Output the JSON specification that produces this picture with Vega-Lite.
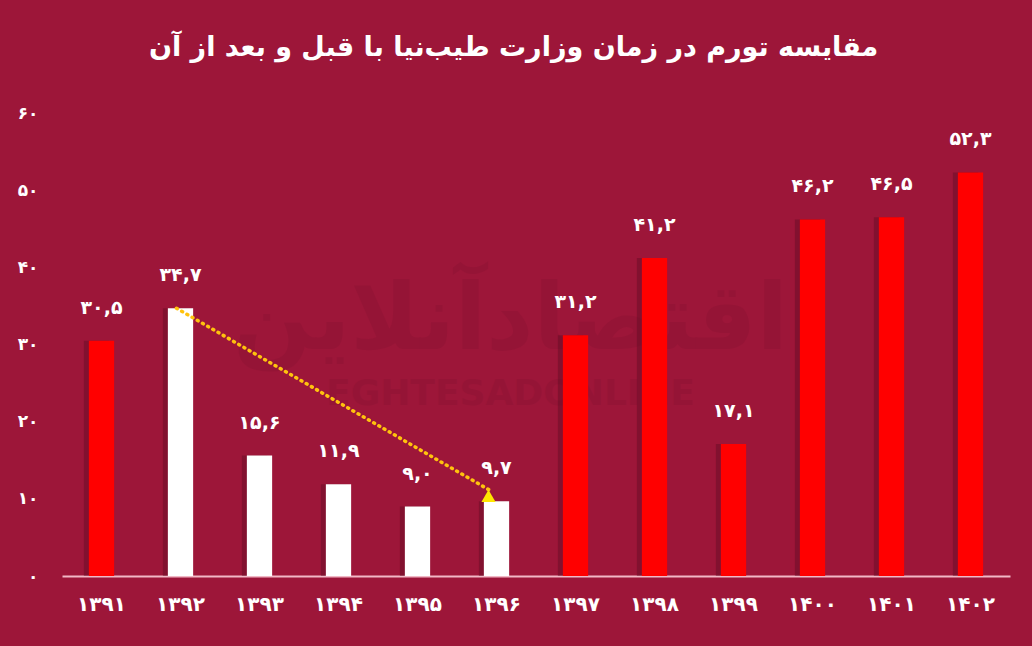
{
  "$schema": "https://vega.github.io/schema/vega-lite/v6.json",
  "description": "Inflation comparison during Tayebnia's ministry vs before and after.",
  "width": 948,
  "height": 463,
  "autosize": {"type": "none"},
  "padding": {"left": 62, "top": 113, "right": 22, "bottom": 70},
  "background": "#9D1639",
  "title": {
    "text": "مقایسه تورم در زمان وزارت طیب‌نیا با قبل و بعد از آن",
    "font": "DejaVu Sans",
    "fontSize": 27,
    "fontWeight": "bold",
    "color": "white",
    "anchor": "middle",
    "frame": "bounds",
    "offset": 42
  },
  "config": {
    "view": {"stroke": null},
    "axis": {"labelFont": "DejaVu Sans", "labelColor": "white", "labelFontWeight": "bold"},
    "text": {"font": "DejaVu Sans"}
  },
  "datasets": {
    "inflation": [
      {"year": "۱۳۹۱", "value": 30.5, "label": "۳۰,۵", "period": "other"},
      {"year": "۱۳۹۲", "value": 34.7, "label": "۳۴,۷", "period": "tayebnia"},
      {"year": "۱۳۹۳", "value": 15.6, "label": "۱۵,۶", "period": "tayebnia"},
      {"year": "۱۳۹۴", "value": 11.9, "label": "۱۱,۹", "period": "tayebnia"},
      {"year": "۱۳۹۵", "value": 9.0, "label": "۹,۰", "period": "tayebnia"},
      {"year": "۱۳۹۶", "value": 9.7, "label": "۹,۷", "period": "tayebnia"},
      {"year": "۱۳۹۷", "value": 31.2, "label": "۳۱,۲", "period": "other"},
      {"year": "۱۳۹۸", "value": 41.2, "label": "۴۱,۲", "period": "other"},
      {"year": "۱۳۹۹", "value": 17.1, "label": "۱۷,۱", "period": "other"},
      {"year": "۱۴۰۰", "value": 46.2, "label": "۴۶,۲", "period": "other"},
      {"year": "۱۴۰۱", "value": 46.5, "label": "۴۶,۵", "period": "other"},
      {"year": "۱۴۰۲", "value": 52.3, "label": "۵۲,۳", "period": "other"}
    ],
    "trend": [
      {"year": "۱۳۹۲", "value": 34.7},
      {"year": "۱۳۹۶", "value": 10.9}
    ],
    "watermark": [
      {"year": "۱۳۹۶", "value": 33, "text": "اقتصادآنلاین", "kind": "fa"},
      {"year": "۱۳۹۶", "value": 23.6, "text": "EGHTESADONLINE", "kind": "en"}
    ]
  },
  "encoding": {
    "x": {
      "field": "year",
      "type": "nominal",
      "title": null,
      "scale": {
        "domain": ["۱۳۹۱", "۱۳۹۲", "۱۳۹۳", "۱۳۹۴", "۱۳۹۵", "۱۳۹۶", "۱۳۹۷", "۱۳۹۸", "۱۳۹۹", "۱۴۰۰", "۱۴۰۱", "۱۴۰۲"],
        "paddingInner": 0.68,
        "paddingOuter": 0.34
      },
      "axis": {
        "labelAngle": 0,
        "ticks": false,
        "domainColor": "#F2B8C6",
        "domainWidth": 2,
        "labelFontSize": 20,
        "labelPadding": 18
      }
    },
    "y": {
      "field": "value",
      "type": "quantitative",
      "title": null,
      "scale": {"domain": [0, 60], "nice": false},
      "axis": {
        "values": [0, 10, 20, 30, 40, 50, 60],
        "labelExpr": "['۰','۱۰','۲۰','۳۰','۴۰','۵۰','۶۰'][datum.value / 10]",
        "domain": false,
        "ticks": false,
        "grid": false,
        "labelFontSize": 17,
        "labelPadding": 24
      }
    }
  },
  "layer": [
    {
      "data": {"name": "watermark"},
      "mark": {"type": "text", "color": "#7E1230", "opacity": 0.25, "fontWeight": "bold", "xOffset": 14},
      "encoding": {
        "text": {"field": "text"},
        "size": {"field": "kind", "type": "nominal", "scale": {"domain": ["fa", "en"], "range": [92, 36]}, "legend": null}
      }
    },
    {
      "data": {"name": "inflation"},
      "mark": {"type": "bar", "xOffset": -5, "color": "#5A0A20", "opacity": 0.4}
    },
    {
      "data": {"name": "inflation"},
      "mark": {"type": "bar"},
      "encoding": {
        "color": {
          "field": "period",
          "type": "nominal",
          "scale": {"domain": ["other", "tayebnia"], "range": ["#FF0000", "#FFFFFF"]},
          "legend": null
        }
      }
    },
    {
      "data": {"name": "inflation"},
      "mark": {"type": "text", "color": "white", "fontSize": 19, "fontWeight": "bold", "baseline": "middle", "dy": -33},
      "encoding": {"text": {"field": "label"}}
    },
    {
      "data": {"name": "trend"},
      "mark": {"type": "line", "color": "#FFC20E", "strokeWidth": 3.5, "strokeDash": [1, 5], "strokeCap": "round", "xOffset": -4}
    },
    {
      "data": {"name": "trend"},
      "transform": [{"filter": "datum.year == '۱۳۹۶'"}],
      "mark": {"type": "point", "shape": "triangle-up", "filled": true, "color": "#FFE600", "opacity": 1, "size": 200, "xOffset": -8, "yOffset": 4}
    }
  ]
}
